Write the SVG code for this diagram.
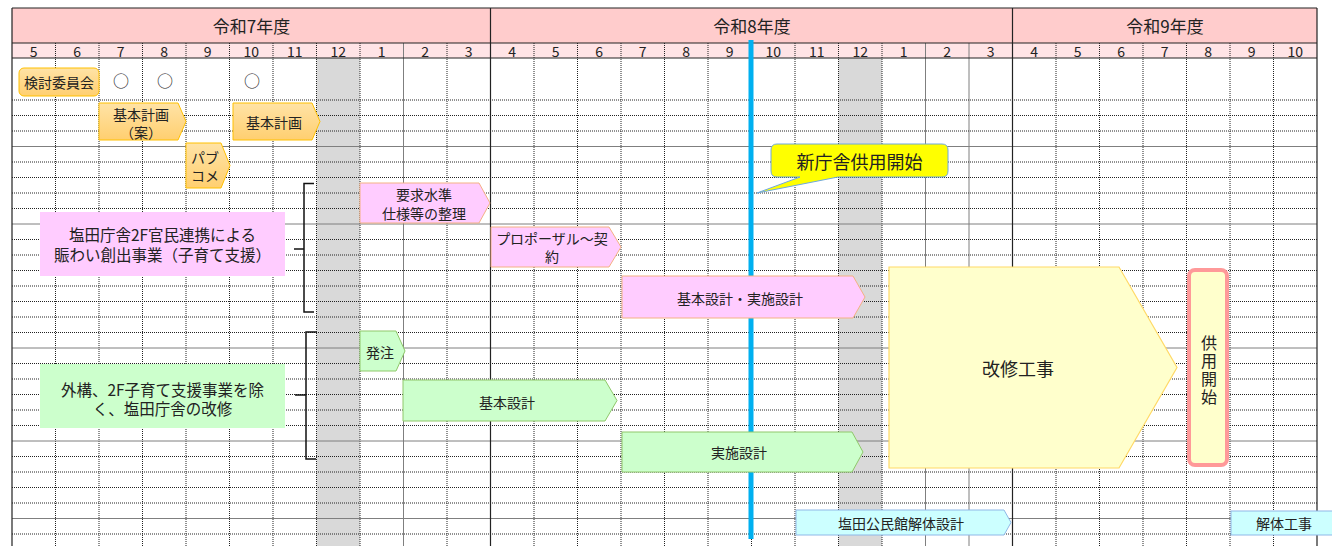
<svg xmlns="http://www.w3.org/2000/svg" width="1332" height="546" viewBox="0 0 1332 546">
<defs>
<style>
text{font-family:"Noto Sans CJK JP","Noto Sans",sans-serif;fill:#222;text-anchor:middle;dominant-baseline:central}
.yr{font-size:17px}
.mo{font-size:14px}
.t14{font-size:14px}
.t15{font-size:15.5px}
.t18{font-size:18px}
.dot{stroke:#222;stroke-width:1;stroke-dasharray:1 1;fill:none}
.sol{stroke:#7f7f7f;stroke-width:1;fill:none}
.dark{stroke:#222;stroke-width:1.2;fill:none}
.org{fill:url(#gOrg);stroke:#ffc000;stroke-width:1}
.pnk{fill:#ffccff;stroke:#f4b183;stroke-width:1}
.grn{fill:#ccffcc;stroke:#8fc86a;stroke-width:1}
.cyn{fill:#ccffff;stroke:#8fb8e8;stroke-width:1}
.ylw{fill:#ffffcc;stroke:#ffd966;stroke-width:1.2}
.brk{stroke:#111;stroke-width:1.5;fill:none}
</style>
<linearGradient id="gOrg" x1="0" y1="0" x2="0" y2="1">
<stop offset="0" stop-color="#ffe3a6"/>
<stop offset="1" stop-color="#ffcf70"/>
</linearGradient>
</defs>
<rect width="1332" height="546" fill="#fff"/>
<g id="header">
<rect x="12" y="8" width="1305" height="35" fill="#ffcccc"/>
<rect x="12" y="43" width="1305" height="15" fill="#ffe4e6"/>
<text class="yr" x="251.5" y="25.5">令和7年度</text>
<text class="yr" x="752" y="25.5">令和8年度</text>
<text class="yr" x="1165" y="25.5">令和9年度</text>
<g class="mo">
<text class="mo" x="33.75" y="51">5</text><text class="mo" x="77.25" y="51">6</text><text class="mo" x="120.75" y="51">7</text><text class="mo" x="164.25" y="51">8</text><text class="mo" x="207.75" y="51">9</text><text class="mo" x="251.25" y="51">10</text><text class="mo" x="294.75" y="51">11</text><text class="mo" x="338.25" y="51">12</text><text class="mo" x="381.75" y="51">1</text><text class="mo" x="425.25" y="51">2</text><text class="mo" x="468.75" y="51">3</text>
<text class="mo" x="512.25" y="51">4</text><text class="mo" x="555.75" y="51">5</text><text class="mo" x="599.25" y="51">6</text><text class="mo" x="642.75" y="51">7</text><text class="mo" x="686.25" y="51">8</text><text class="mo" x="729.75" y="51">9</text><text class="mo" x="773.25" y="51">10</text><text class="mo" x="816.75" y="51">11</text><text class="mo" x="860.25" y="51">12</text><text class="mo" x="903.75" y="51">1</text><text class="mo" x="947.25" y="51">2</text><text class="mo" x="990.75" y="51">3</text>
<text class="mo" x="1034.25" y="51">4</text><text class="mo" x="1077.75" y="51">5</text><text class="mo" x="1121.25" y="51">6</text><text class="mo" x="1164.75" y="51">7</text><text class="mo" x="1208.25" y="51">8</text><text class="mo" x="1251.75" y="51">9</text><text class="mo" x="1295.25" y="51">10</text>
</g>
</g>
<g id="grid">
<rect x="316.5" y="58" width="43.5" height="488" fill="#d9d9d9"/>
<rect x="838.5" y="58" width="43.5" height="488" fill="#d9d9d9"/>
<path class="dot" d="M55.5,43V546M99,43V546M142.5,43V546M186,43V546M229.5,43V546M273,43V546M316.5,43V546M360,43V546M447,43V546M534,43V546M577.5,43V546M621,43V546M664.5,43V546M708,43V546M751.5,43V546M795,43V546M838.5,43V546M882,43V546M1056,43V546M1099.5,43V546M1143,43V546M1186.5,43V546M1230,43V546M1273.5,43V546"/>
<path class="sol" d="M403.5,43V546M925.5,43V546M969,43V546"/>
<path class="dot" d="M12,100H1317M12,115.5H1317M12,131H1317M12,162H1317M12,177.5H1317M12,193H1317M12,208.5H1317M12,239.5H1317M12,255H1317M12,270.5H1317M12,286H1317M12,301.5H1317M12,317H1317M12,332.5H1317M12,363.5H1317M12,379H1317M12,394.5H1317M12,410H1317M12,425.5H1317M12,456.5H1317M12,472H1317M12,487.5H1317M12,503H1317M12,534H1317"/>
<path class="sol" d="M12,146.5H1317M12,224H1317M12,348H1317M12,441H1317M12,518.5H1317"/>
<path class="dark" d="M12,8H1317M12,43H1317M12,58H1317M12,8V546M1317,8V546M490.5,8V546M1012.5,8V546"/>
</g>
<g id="marker-line">
<rect x="748.5" y="40" width="5" height="499" fill="#00b0f0"/>
</g>
<g id="connectors">
<path class="brk" d="M314,183.5H304V312H314M294,249H304"/>
<path class="brk" d="M316,332H306V459H316M295,395H306"/>
</g>
<g id="n-kento">
<rect class="org" x="19" y="68" width="80" height="28" rx="5"/>
<text class="t14" x="59" y="82">検討委員会</text>
</g>
<g id="n-maru">
<text x="121" y="80" style="font-size:16px">○</text>
<text x="165" y="80" style="font-size:16px">○</text>
<text x="252" y="80" style="font-size:16px">○</text>
</g>
<g id="n-kihonkeikaku-an">
<path class="org" d="M99,103H178L186,121.5L178,140H99Z"/>
<text class="t14"><tspan x="141" y="113.5">基本計画</tspan><tspan x="141" y="131.5">（案）</tspan></text>
</g>
<g id="n-kihonkeikaku">
<path class="org" d="M233,103H312L320,121.5L312,140H233Z"/>
<text class="t14" x="274" y="122">基本計画</text>
</g>
<g id="n-pabukome">
<path class="org" d="M186,143H221L230,165.5L221,188H186Z"/>
<text class="t14"><tspan x="205" y="157">パブ</tspan><tspan x="205" y="175">コメ</tspan></text>
</g>
<g id="n-label-pink">
<rect x="40" y="212" width="245" height="64" fill="#ffccff"/>
<text class="t15"><tspan x="162.5" y="234">塩田庁舎2F官民連携による</tspan><tspan x="162.5" y="254">賑わい創出事業（子育て支援）</tspan></text>
</g>
<g id="n-label-green">
<rect x="40" y="364" width="245" height="64" fill="#ccffcc"/>
<text class="t15"><tspan x="162.5" y="388.5">外構、2F子育て支援事業を除</tspan><tspan x="162.5" y="408">く、塩田庁舎の改修</tspan></text>
</g>
<g id="n-yokyu">
<path class="pnk" d="M360,183H479L490,203L479,223H360Z"/>
<text class="t14"><tspan x="424" y="193.5">要求水準</tspan><tspan x="424" y="212.5">仕様等の整理</tspan></text>
</g>
<g id="n-propo">
<path class="pnk" d="M491,227H609L621,247L609,267H491Z"/>
<text class="t14"><tspan x="552" y="238">プロポーザル～契</tspan><tspan x="552" y="256">約</tspan></text>
</g>
<g id="n-sekkei-pink">
<path class="pnk" d="M622,276H853L865,297L853,318H622Z"/>
<text class="t14" x="740" y="297.5">基本設計・実施設計</text>
</g>
<g id="n-hachu">
<path class="grn" d="M360,331H396L405,351L396,371H360Z"/>
<text class="t14" x="380" y="351.5">発注</text>
</g>
<g id="n-kihonsekkei">
<path class="grn" d="M403,380H605L617,400.5L605,421H403Z"/>
<text class="t14" x="507" y="401.5">基本設計</text>
</g>
<g id="n-jisshisekkei">
<path class="grn" d="M622,432H852L863,452L852,472H622Z"/>
<text class="t14" x="739" y="452">実施設計</text>
</g>
<g id="n-kaishu">
<path class="ylw" d="M889,267H1119L1177,367.5L1119,468H889Z"/>
<text class="t18" x="1018" y="368">改修工事</text>
</g>
<g id="n-kyoyo">
<rect x="1189" y="270" width="38" height="195" rx="6" fill="#ffffcc" stroke="#ff9999" stroke-width="4"/>
<text x="1209" y="371" style="font-size:16px;writing-mode:vertical-rl;letter-spacing:2px">供用開始</text>
</g>
<g id="n-kaitai-sekkei">
<path class="cyn" d="M796,510H1004L1011,522.5L1004,535H796Z"/>
<text class="t14" x="901" y="523">塩田公民館解体設計</text>
</g>
<g id="n-kaitai-koji">
<rect class="cyn" x="1231" y="511" width="110" height="24"/>
<text class="t14" x="1284" y="523">解体工事</text>
</g>
<g id="n-callout">
<path d="M777,144H942Q948,144 948,150V171Q948,177 942,177H838L757,193L800,177H777Q771,177 771,171V150Q771,144 777,144Z" fill="#ffff00" stroke="#6fa8dc" stroke-width="1"/>
<text class="t18" x="859.5" y="161">新庁舎供用開始</text>
</g>
</svg>
